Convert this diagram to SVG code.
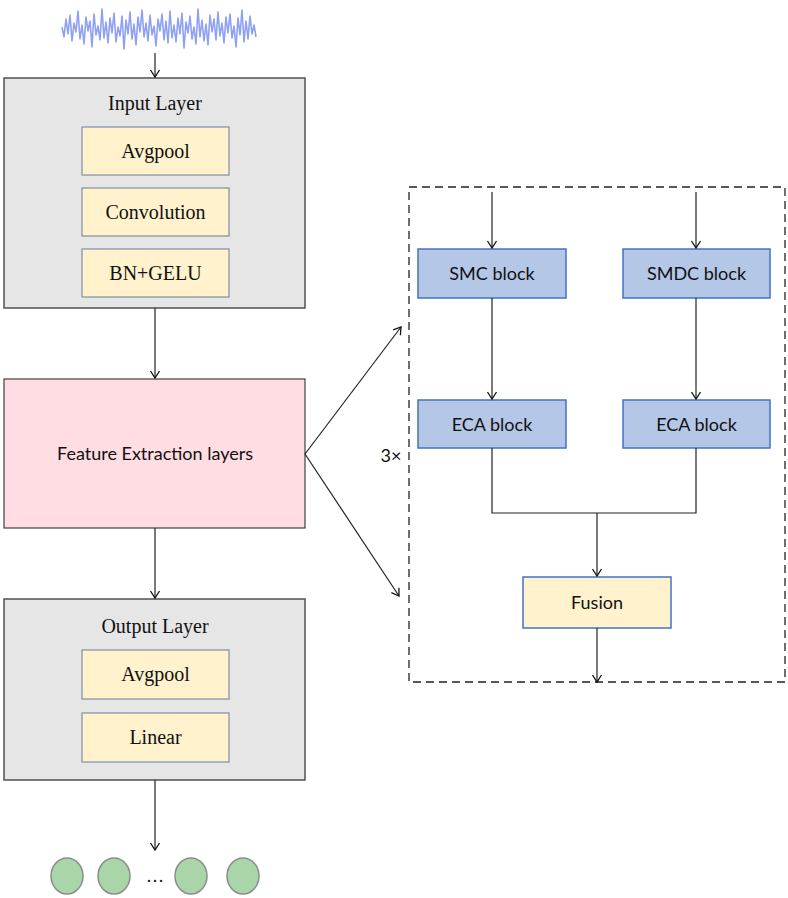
<svg xmlns="http://www.w3.org/2000/svg" width="788" height="898" viewBox="0 0 788 898">
<defs>
<marker id="arr" markerWidth="12" markerHeight="12" refX="10" refY="6" orient="auto" markerUnits="userSpaceOnUse">
<polyline points="3,1.5 10,6 3,10.5" fill="none" stroke="#111" stroke-width="1.3"/>
</marker>
<style>
.layer{fill:#e6e6e6;stroke:#505050;stroke-width:1.5}
.sub{fill:#fff2cc;stroke:#7f8fa6;stroke-width:1.2}
.fe{fill:#ffdde3;stroke:#404040;stroke-width:1.2}
.blk{fill:#b4c7e7;stroke:#4472c4;stroke-width:1.5}
.fus{fill:#fff2cc;stroke:#4472c4;stroke-width:1.5}
.serif{font-family:"Liberation Serif","Times New Roman",serif;font-size:20px;fill:#111;text-anchor:middle}
.sans{font-family:Lato,"Open Sans",sans-serif;font-size:18px;fill:#111;text-anchor:middle}
.ln{fill:none;stroke:#222;stroke-width:1.2}
.out{fill:#a9d5a9;stroke:#8c8c8c;stroke-width:1.5}
</style>
</defs>
<rect width="788" height="898" fill="#fff"/>

<g id="signal">
<polyline fill="none" stroke="#8fa1f5" stroke-width="1.6" stroke-linejoin="round" points="62,27 64,37 66,19 68,34 70,15 72,41 74,23 76,32 78,11 80,39 82,25 84,44 86,17 88,31 90,21 92,47 94,14 96,35 98,26 100,40 102,9 104,38 106,22 108,43 110,18 112,33 114,13 116,42 118,27 120,36 122,16 124,49 126,20 128,34 130,12 132,39 134,24 136,45 138,17 140,32 142,10 144,37 146,23 148,41 150,15 152,35 154,26 156,46 158,19 160,31 162,14 164,40 166,21 168,43 170,11 172,38 174,25 176,42 178,18 180,34 182,13 184,48 186,22 188,33 190,16 192,39 194,27 196,44 198,9 200,37 202,20 204,41 206,24 208,45 210,15 212,32 214,19 216,40 218,12 220,36 222,23 224,43 226,17 228,33 230,14 232,38 234,26 236,47 238,18 240,35 242,10 244,42 246,21 248,39 250,16 252,34 254,25 256,37"/>
</g>

<g id="input-layer">
<rect class="layer" x="4" y="78" width="301" height="230"/>
<text class="serif" x="155" y="110">Input Layer</text>
<rect class="sub" x="82" y="127" width="147" height="48"/>
<text class="serif" x="155.5" y="158">Avgpool</text>
<rect class="sub" x="82" y="188" width="147" height="48"/>
<text class="serif" x="155.5" y="219">Convolution</text>
<rect class="sub" x="82" y="249" width="147" height="48"/>
<text class="serif" x="155.5" y="280">BN+GELU</text>
</g>

<g id="feature-extraction">
<rect class="fe" x="4" y="379" width="301" height="149"/>
<text class="sans" x="155" y="460">Feature Extraction layers</text>
</g>

<g id="output-layer">
<rect class="layer" x="4" y="599" width="301" height="181"/>
<text class="serif" x="155" y="633">Output Layer</text>
<rect class="sub" x="82" y="650" width="147" height="49"/>
<text class="serif" x="155.5" y="681">Avgpool</text>
<rect class="sub" x="82" y="713" width="147" height="49"/>
<text class="serif" x="155.5" y="744">Linear</text>
</g>

<g id="outputs">
<ellipse class="out" cx="67" cy="876" rx="16" ry="18"/>
<ellipse class="out" cx="114" cy="876" rx="16" ry="18"/>
<text x="155" y="882" font-family="Liberation Serif,serif" font-size="18" text-anchor="middle" fill="#111">…</text>
<ellipse class="out" cx="191" cy="876" rx="16" ry="18"/>
<ellipse class="out" cx="243" cy="876" rx="16" ry="18"/>
</g>

<g id="repeat-box">
<rect x="409" y="187" width="376" height="495" fill="none" stroke="#222" stroke-width="1.3" stroke-dasharray="8,5"/>
<text x="391" y="462" font-family="Lato,'Open Sans',sans-serif" font-size="18" text-anchor="middle" fill="#111">3×</text>
</g>

<g id="smc">
<rect class="blk" x="418" y="249" width="148" height="49"/>
<text class="sans" x="492" y="280">SMC block</text>
</g>
<g id="smdc">
<rect class="blk" x="623" y="249" width="147" height="49"/>
<text class="sans" x="696.5" y="280">SMDC block</text>
</g>
<g id="eca1">
<rect class="blk" x="418" y="400" width="148" height="48"/>
<text class="sans" x="492" y="431">ECA block</text>
</g>
<g id="eca2">
<rect class="blk" x="623" y="400" width="147" height="48"/>
<text class="sans" x="696.5" y="431">ECA block</text>
</g>
<g id="fusion">
<rect class="fus" x="523" y="577" width="148" height="51"/>
<text class="sans" x="597" y="609">Fusion</text>
</g>

<g id="connectors">
<line class="ln" x1="155" y1="53" x2="155" y2="77" marker-end="url(#arr)"/>
<line class="ln" x1="155" y1="308" x2="155" y2="378" marker-end="url(#arr)"/>
<line class="ln" x1="155" y1="528" x2="155" y2="598" marker-end="url(#arr)"/>
<line class="ln" x1="155" y1="780" x2="155" y2="850" marker-end="url(#arr)"/>
<line class="ln" x1="305" y1="454" x2="401" y2="327" marker-end="url(#arr)"/>
<line class="ln" x1="305" y1="454" x2="399" y2="596" marker-end="url(#arr)"/>
<line class="ln" x1="492" y1="192" x2="492" y2="248" marker-end="url(#arr)"/>
<line class="ln" x1="696" y1="192" x2="696" y2="248" marker-end="url(#arr)"/>
<line class="ln" x1="492" y1="298" x2="492" y2="399" marker-end="url(#arr)"/>
<line class="ln" x1="696" y1="298" x2="696" y2="399" marker-end="url(#arr)"/>
<polyline class="ln" points="492,448 492,513 696,513 696,448"/>
<line class="ln" x1="597" y1="513" x2="597" y2="576" marker-end="url(#arr)"/>
<line class="ln" x1="597" y1="628" x2="597" y2="682" marker-end="url(#arr)"/>
</g>
</svg>
